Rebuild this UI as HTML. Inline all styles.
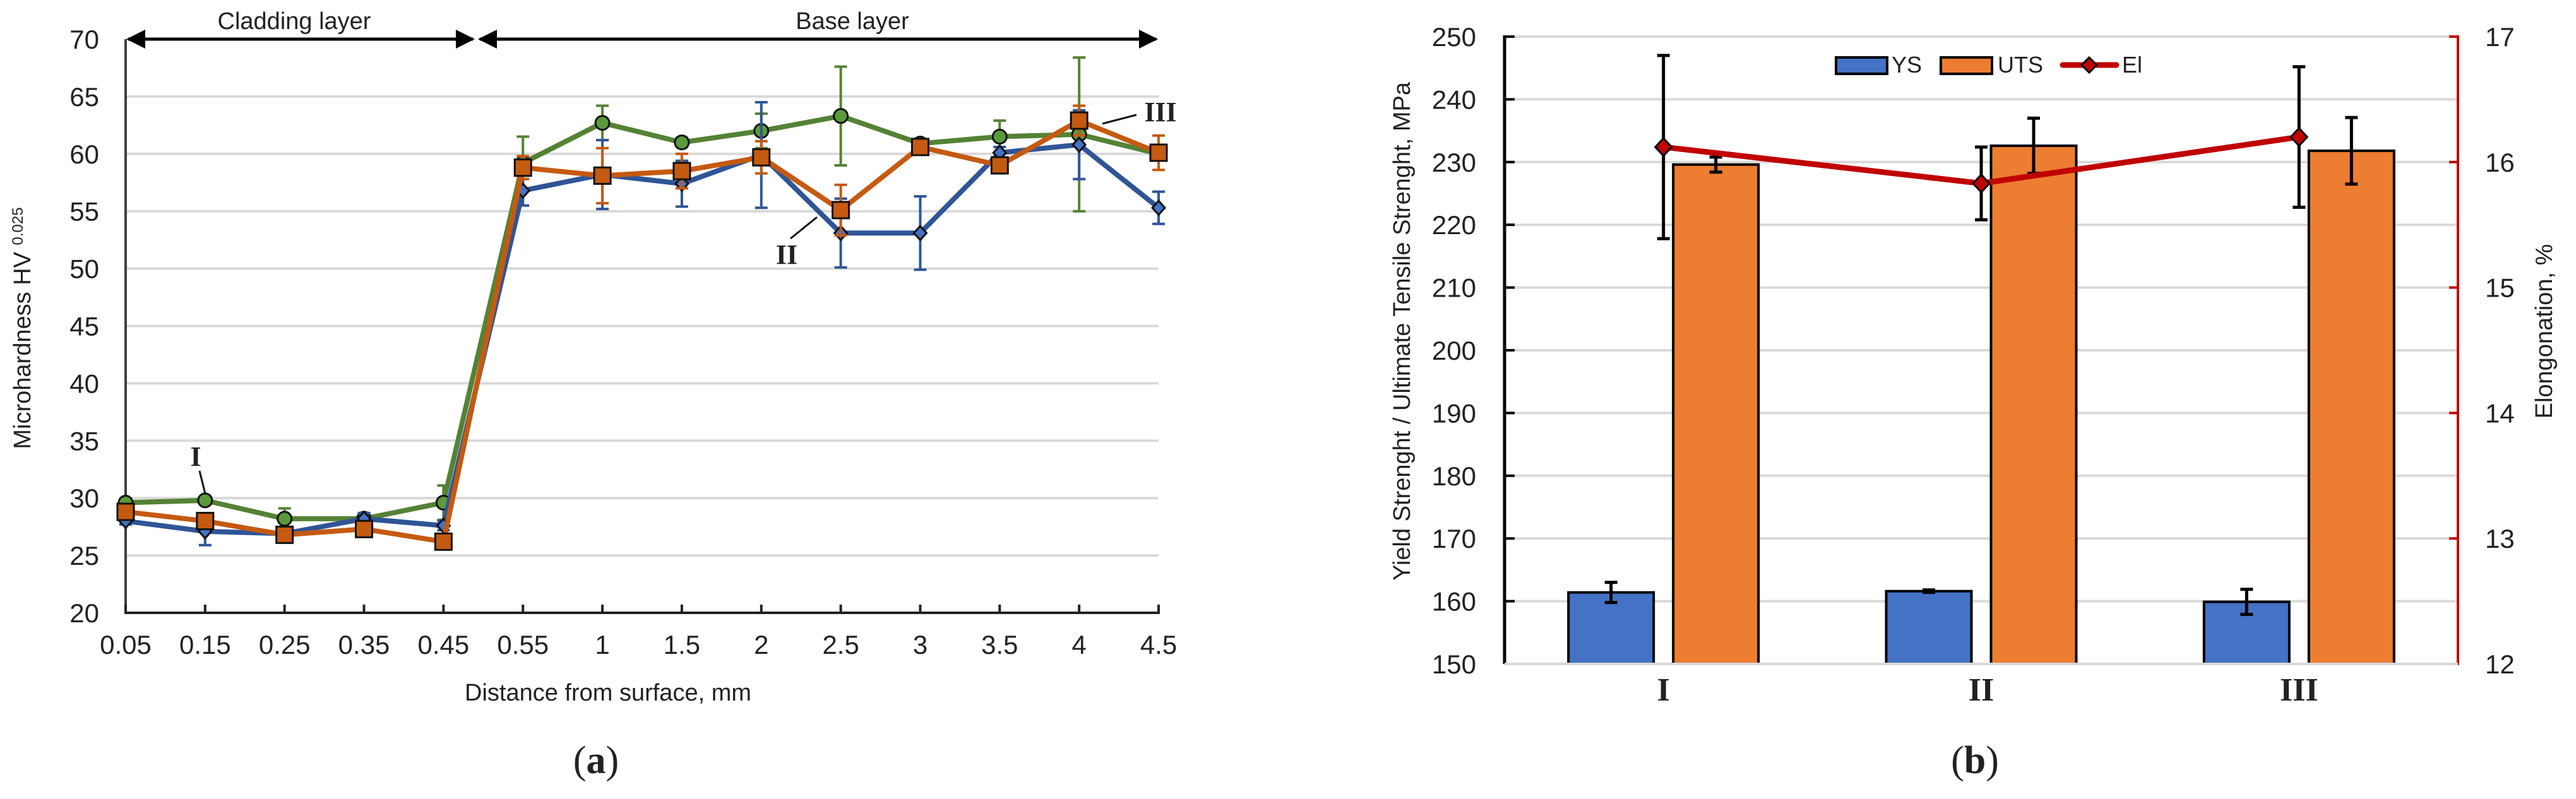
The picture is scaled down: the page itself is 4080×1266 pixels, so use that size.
<!DOCTYPE html>
<html><head><meta charset="utf-8"><style>
html,body{margin:0;padding:0;background:#fff;}
svg{display:block;}
text{font-family:"Liberation Sans",sans-serif;fill:#222;}
.serif{font-family:"Liberation Serif",serif;}
</style></head><body>
<svg id="chart" width="4080" height="1266" viewBox="0 0 4080 1266" xmlns="http://www.w3.org/2000/svg">
<g id="gA"></g>
<g id="gB"></g>
</svg>
<script>
// ---------- Chart (a) data ----------
const aCategories = ["0.05","0.15","0.25","0.35","0.45","0.55","1","1.5","2","2.5","3","3.5","4","4.5"];
const aYTicks = [20,25,30,35,40,45,50,55,60,65,70];
const aGreen = [29.6,29.8,28.2,28.2,29.6,59.2,62.7,61.0,62.0,63.3,60.9,61.5,61.7,60.0];
const aGreenErr = [0.3,0.3,0.9,0.4,1.5,2.3,1.5,0.4,1.5,4.3,0.4,1.4,6.7,0.5];
const aBlue = [28.0,27.1,26.9,28.2,27.6,56.8,58.2,57.4,59.9,53.1,53.1,60.1,60.8,55.3];
const aBlueErr = [0.3,1.2,0.5,0.5,0.4,1.3,3.0,2.0,4.6,3.0,3.2,0.5,3.0,1.4];
const aOrange = [28.8,28.0,26.8,27.3,26.2,58.8,58.1,58.5,59.7,55.1,60.6,59.0,62.9,60.1];
const aOrangeErr = [0.5,0.3,0.3,0.3,0.3,1.0,2.4,1.5,1.4,2.2,0.3,0.4,1.3,1.5];

// ---------- Chart (b) data ----------
const bCategories = ["I","II","III"];
const bLeftTicks = [150,160,170,180,190,200,210,220,230,240,250];
const bRightTicks = [12,13,14,15,16,17];
const bYS = [161.4,161.6,159.9];
const bYSErr = [1.6,0.2,2.0];
const bUTS = [229.6,232.6,231.8];
const bUTSErr = [1.2,4.4,5.3];
const bEl = [16.12,15.83,16.20];
const bElErr = [0.73,0.29,0.56];

const NS="http://www.w3.org/2000/svg";
function mk(parent,tag,attrs,txt){const e=document.createElementNS(NS,tag);for(const k in attrs)e.setAttribute(k,attrs[k]);if(txt!==undefined)e.textContent=txt;parent.appendChild(e);return e;}

// ===== Chart (a) =====
const gA=document.getElementById('gA');
const aX0=199, aStep=125.85, aYTop=62, aYBot=971;
function ax(i){return aX0+i*aStep;}
function ay(v){return aYBot-(v-20)/(70-20)*(aYBot-aYTop);}
aYTicks.forEach(t=>{
  if(t>20&&t<70){const l=mk(gA,'line',{x1:aX0,x2:ax(13),y1:ay(t),y2:ay(t),stroke:'#d9d9d9','stroke-width':4});
  
  }
  const tx=mk(gA,'text',{x:157,y:ay(t)+15,'text-anchor':'end','font-size':42},String(t));
  
  
});
mk(gA,'line',{x1:aX0,x2:aX0,y1:aYTop,y2:aYBot+2,stroke:'#404040','stroke-width':4,});
mk(gA,'line',{x1:aX0-2,x2:ax(13)+2,y1:aYBot,y2:aYBot,stroke:'#222','stroke-width':4,});
aCategories.forEach((c,i)=>{
  const tk=mk(gA,'line',{x1:ax(i),x2:ax(i),y1:aYBot,y2:aYBot-13,stroke:'#222','stroke-width':4});
  
  
  const tx=mk(gA,'text',{x:ax(i),y:1036,'text-anchor':'middle','font-size':42},c);
  
  
});
const defs=mk(gA,'defs',{});
const mkr=mk(defs,'marker',{id:'ah',markerWidth:30,markerHeight:30,refX:9,refY:5,orient:'auto-start-reverse',markerUnits:'userSpaceOnUse',viewBox:'0 0 10 10'});
mk(mkr,'path',{d:'M0,0 L10,5 L0,10 z',fill:'#000'});
mk(gA,'line',{x1:203,x2:749,y1:62,y2:62,stroke:'#000','stroke-width':5,'marker-start':'url(#ah)','marker-end':'url(#ah)',});
mk(gA,'line',{x1:760,x2:1831,y1:62,y2:62,stroke:'#000','stroke-width':5,'marker-start':'url(#ah)','marker-end':'url(#ah)',});
mk(gA,'text',{x:466,y:46,'text-anchor':'middle','font-size':38,},'Cladding layer');
mk(gA,'text',{x:1350,y:46,'text-anchor':'middle','font-size':38,},'Base layer');
const yt=mk(gA,'text',{transform:'translate(48,520) rotate(-90)','text-anchor':'middle','font-size':38,},'Microhardness HV ');
mk(yt,'tspan',{'font-size':24,dy:-12},'0.025');
mk(gA,'text',{x:963,y:1110,'text-anchor':'middle','font-size':38,},'Distance from surface, mm');
const pa=mk(gA,'text',{x:944,y:1225,'text-anchor':'middle','font-size':62,'class':'serif',},'(');
mk(pa,'tspan',{'font-weight':'bold'},'a');
mk(pa,'tspan',{},')');

function drawSeries(vals,errs,lineCol,markCol,shape,name){
  const g=mk(gA,'g',{});
  
  
  vals.forEach((v,i)=>{
    const x=ax(i),t=ay(v+errs[i]),b=ay(v-errs[i]);
    const e=mk(g,'path',{d:`M${x},${t}V${b}M${x-10},${t}H${x+10}M${x-10},${b}H${x+10}`,stroke:lineCol,'stroke-width':4,fill:'none'});
    
    
  });
  const pts=vals.map((v,i)=>ax(i)+','+ay(v)).join(' ');
  const pl=mk(g,'polyline',{points:pts,fill:'none',stroke:lineCol,'stroke-width':8,'stroke-linejoin':'round'});
  
  
  vals.forEach((v,i)=>{
    const x=ax(i),y=ay(v);let m;
    if(shape==='circle')m=mk(g,'circle',{cx:x,cy:y,r:11,fill:markCol,stroke:'#111','stroke-width':3});
    else if(shape==='square')m=mk(g,'rect',{x:x-13,y:y-13,width:26,height:26,fill:markCol,stroke:'#111','stroke-width':3});
    else m=mk(g,'path',{d:`M${x},${y-11}L${x+10},${y}L${x},${y+11}L${x-10},${y}z`,fill:markCol,stroke:'#111','stroke-width':3});
    
    
  });
}
drawSeries(aGreen,aGreenErr,'#548235','#5b9a3a','circle','series-green');
drawSeries(aBlue,aBlueErr,'#2f5597','#4472c4','diamond','series-blue');
drawSeries(aOrange,aOrangeErr,'#c55a11','#c55a11','square','series-orange');
mk(gA,'text',{x:310,y:738,'text-anchor':'middle','font-size':44,'font-weight':'bold','class':'serif',},'I');
mk(gA,'line',{x1:316,y1:746,x2:325,y2:782,stroke:'#111','stroke-width':3});
mk(gA,'text',{x:1246,y:418,'text-anchor':'middle','font-size':44,'font-weight':'bold','class':'serif',},'II');
mk(gA,'line',{x1:1252,y1:378,x2:1294,y2:344,stroke:'#111','stroke-width':3});
mk(gA,'text',{x:1838,y:192,'text-anchor':'middle','font-size':44,'font-weight':'bold','class':'serif',},'III');
mk(gA,'line',{x1:1746,y1:196,x2:1800,y2:182,stroke:'#111','stroke-width':3});

// ===== Chart (b) =====
const gB=document.getElementById('gB');
const bL=2383,bR=3893,bTop=58,bBot=1052,bStep=(bR-bL)/3,barW=135,gap=31;
function bx(i){return bL+bStep*(i+0.5);}
function by(v){return bBot-(v-150)/100*(bBot-bTop);}
function byR(v){return bBot-(v-12)/5*(bBot-bTop);}
bLeftTicks.forEach(t=>{
  const l=mk(gB,'line',{x1:bL,x2:bR,y1:by(t),y2:by(t),stroke:'#d9d9d9','stroke-width':4});
  
  
  const tk=mk(gB,'line',{x1:bL,x2:bL+16,y1:by(t),y2:by(t),stroke:'#000','stroke-width':4});
  
  
  const tx=mk(gB,'text',{x:2338,y:by(t)+15,'text-anchor':'end','font-size':42},String(t));
  
  
});
bRightTicks.forEach(t=>{
  const tk=mk(gB,'line',{x1:bR,x2:bR-14,y1:byR(t),y2:byR(t),stroke:'#c00000','stroke-width':4});
  
  
  const tx=mk(gB,'text',{x:3936,y:byR(t)+15,'text-anchor':'start','font-size':42},String(t));
  
  
});
mk(gB,'line',{x1:bL,x2:bL,y1:bTop-2,y2:bBot,stroke:'#000','stroke-width':5,});
mk(gB,'line',{x1:bR,x2:bR,y1:bTop-2,y2:bBot+2,stroke:'#c00000','stroke-width':4,});
function errBar(g,x,v,e,f,name){
  const t=f(v+e),b=f(v-e);
  const p=mk(g,'path',{d:`M${x},${t}V${b}M${x-10},${t}H${x+10}M${x-10},${b}H${x+10}`,stroke:'#000','stroke-width':5,fill:'none'});
  
  
}
bCategories.forEach((c,i)=>{
  const cx=bx(i);
  const ys=mk(gB,'rect',{x:cx-gap/2-barW,y:by(bYS[i]),width:barW,height:bBot-by(bYS[i]),fill:'#4472c4',stroke:'#000','stroke-width':4});
  
  
  const ut=mk(gB,'rect',{x:cx+gap/2,y:by(bUTS[i]),width:barW,height:bBot-by(bUTS[i]),fill:'#ed7d31',stroke:'#000','stroke-width':4});
  
  
  errBar(gB,cx-gap/2-barW/2,bYS[i],bYSErr[i],by,'ys-error-bar');
  errBar(gB,cx+gap/2+barW/2,bUTS[i],bUTSErr[i],by,'uts-error-bar');
  const lbl=mk(gB,'text',{x:cx,y:1110,'text-anchor':'middle','font-size':52,'font-weight':'bold','class':'serif'},c);
  
  
});
mk(gB,'line',{x1:bL,x2:bR,y1:bBot,y2:bBot,stroke:'#d9d9d9','stroke-width':4});
const elPts=bEl.map((v,i)=>bx(i)+','+byR(v)).join(' ');
mk(gB,'polyline',{points:elPts,fill:'none',stroke:'#c00000','stroke-width':9,});
bEl.forEach((v,i)=>{
  errBar(gB,bx(i),v,bElErr[i],byR,'el-error-bar');
  const x=bx(i),y=byR(v);
  const d=mk(gB,'path',{d:`M${x},${y-14}L${x+13},${y}L${x},${y+14}L${x-13},${y}z`,fill:'#c00000',stroke:'#000','stroke-width':3});
  
  
});
const lg=mk(gB,'g',{});
mk(lg,'rect',{x:2908,y:91,width:81,height:26,fill:'#4472c4',stroke:'#000','stroke-width':4,});
mk(lg,'text',{x:2996,y:115,'font-size':36,},'YS');
mk(lg,'rect',{x:3074,y:91,width:81,height:26,fill:'#ed7d31',stroke:'#000','stroke-width':4,});
mk(lg,'text',{x:3164,y:115,'font-size':36,},'UTS');
mk(lg,'line',{x1:3267,x2:3352,y1:103,y2:103,stroke:'#c00000','stroke-width':9,'stroke-linecap':'round'});
mk(lg,'path',{d:'M3309,91L3321,103L3309,115L3297,103z',fill:'#c00000',stroke:'#000','stroke-width':3});
mk(lg,'text',{x:3361,y:115,'font-size':36,},'El');
mk(gB,'text',{transform:'translate(2233,525) rotate(-90)','text-anchor':'middle','font-size':38,},'Yield Strenght / Ultimate Tensile Strenght, MPa');
mk(gB,'text',{transform:'translate(4042,525) rotate(-90)','text-anchor':'middle','font-size':38,},'Elongonation, %');
const pb=mk(gB,'text',{x:3128,y:1225,'text-anchor':'middle','font-size':62,'class':'serif',},'(');
mk(pb,'tspan',{'font-weight':'bold'},'b');
mk(pb,'tspan',{},')');
</script>
</body></html>
